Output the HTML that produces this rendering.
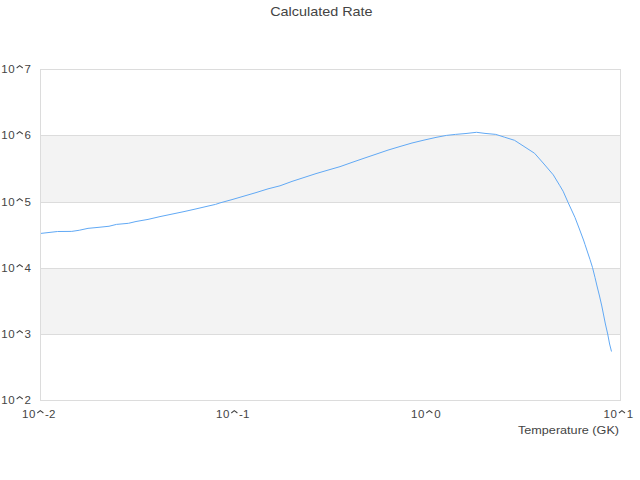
<!DOCTYPE html>
<html><head><meta charset="utf-8"><style>
html,body{margin:0;padding:0;background:#fff;width:640px;height:480px;overflow:hidden}
svg{display:block}
text{font-family:"Liberation Sans",sans-serif;fill:#444}
</style></head><body>
<svg width="640" height="480" viewBox="0 0 640 480">
<rect x="0" y="0" width="640" height="480" fill="#fff"/>
<rect x="41" y="136" width="579" height="66" fill="#f3f3f3"/>
<rect x="41" y="269" width="579" height="65" fill="#f3f3f3"/>
<g fill="#dcdcdc">
<rect x="40" y="69" width="581" height="1"/>
<rect x="40" y="135" width="581" height="1"/>
<rect x="40" y="202" width="581" height="1"/>
<rect x="40" y="268" width="581" height="1"/>
<rect x="40" y="334" width="581" height="1"/>
<rect x="40" y="400" width="581" height="1"/>
<rect x="40" y="69" width="1" height="332"/>
<rect x="620" y="69" width="1" height="332"/>
</g>
<clipPath id="c"><rect x="41" y="60" width="579" height="340"/></clipPath>
<path clip-path="url(#c)" d="M40.00,233.50 L57.50,231.50 L71.75,231.40 L79.25,230.25 L88.00,228.35 L98.00,227.40 L109.00,226.25 L116.50,224.40 L128.50,223.30 L136.00,221.50 L148.00,219.40 L160.00,216.60 L172.00,214.10 L184.00,211.60 L196.00,208.90 L208.00,206.10 L215.50,204.40 L220.00,202.90 L232.00,199.60 L244.00,196.10 L256.00,192.60 L268.00,188.85 L280.00,185.80 L292.00,181.40 L304.00,177.50 L316.00,173.60 L328.00,170.10 L340.00,166.65 L352.00,162.40 L364.00,158.25 L376.00,154.20 L388.00,150.10 L400.00,146.50 L412.00,143.00 L424.00,140.10 L436.00,137.40 L446.50,135.40 L455.50,134.40 L466.00,133.50 L476.50,132.30 L485.00,133.40 L495.75,134.40 L504.75,137.25 L514.50,140.30 L534.60,153.30 L544.00,164.00 L553.30,174.90 L559.60,185.30 L563.10,191.20 L568.10,202.50 L575.00,217.50 L579.40,229.00 L583.50,240.00 L585.00,244.50 L590.00,259.50 L592.50,267.50 L595.00,277.50 L597.00,286.00 L599.50,296.00 L601.80,306.00 L603.80,316.00 L605.40,324.00 L607.70,334.00 L609.60,344.00 L611.50,351.50" fill="none" stroke="#61a9f5" stroke-width="1" stroke-linejoin="bevel"/>
<text x="321.4" y="16" font-size="13.5" text-anchor="middle" textLength="102.5" lengthAdjust="spacingAndGlyphs">Calculated Rate</text>
<g font-size="11.5">
<text x="1.29" y="73">1</text>
<text x="8.35" y="73">0</text>
<path d="M16.66,68.00 L19.66,65.70 L22.75,68.00" fill="none" stroke="#444" stroke-width="1.05"/>
<text x="24.54" y="73">7</text>
<text x="1.29" y="139">1</text>
<text x="8.35" y="139">0</text>
<path d="M16.66,134.00 L19.66,131.70 L22.75,134.00" fill="none" stroke="#444" stroke-width="1.05"/>
<text x="24.56" y="139">6</text>
<text x="1.29" y="206">1</text>
<text x="8.35" y="206">0</text>
<path d="M16.66,201.00 L19.66,198.70 L22.75,201.00" fill="none" stroke="#444" stroke-width="1.05"/>
<text x="24.52" y="206">5</text>
<text x="1.29" y="272">1</text>
<text x="8.35" y="272">0</text>
<path d="M16.66,267.00 L19.66,264.70 L22.75,267.00" fill="none" stroke="#444" stroke-width="1.05"/>
<text x="24.56" y="272">4</text>
<text x="1.29" y="338">1</text>
<text x="8.35" y="338">0</text>
<path d="M16.66,333.00 L19.66,330.70 L22.75,333.00" fill="none" stroke="#444" stroke-width="1.05"/>
<text x="24.58" y="338">3</text>
<text x="1.29" y="404">1</text>
<text x="8.35" y="404">0</text>
<path d="M16.66,399.00 L19.66,396.70 L22.75,399.00" fill="none" stroke="#444" stroke-width="1.05"/>
<text x="24.42" y="404">2</text>
<text x="21.94" y="418">1</text>
<text x="29.00" y="418">0</text>
<path d="M37.31,413.00 L40.31,410.70 L43.40,413.00" fill="none" stroke="#444" stroke-width="1.05"/>
<text x="44.98" y="418">-</text>
<text x="49.04" y="418">2</text>
<text x="215.94" y="418">1</text>
<text x="223.00" y="418">0</text>
<path d="M231.31,413.00 L234.31,410.70 L237.40,413.00" fill="none" stroke="#444" stroke-width="1.05"/>
<text x="238.98" y="418">-</text>
<text x="243.12" y="418">1</text>
<text x="410.94" y="418">1</text>
<text x="418.00" y="418">0</text>
<path d="M426.31,413.00 L429.31,410.70 L432.40,413.00" fill="none" stroke="#444" stroke-width="1.05"/>
<text x="434.21" y="418">0</text>
<text x="603.54" y="418">1</text>
<text x="610.60" y="418">0</text>
<path d="M618.91,413.00 L621.91,410.70 L625.00,413.00" fill="none" stroke="#444" stroke-width="1.05"/>
<text x="626.75" y="418">1</text>
<text x="619" y="434" font-size="11.5" text-anchor="end" textLength="101" lengthAdjust="spacingAndGlyphs">Temperature (GK)</text>
</g>
</svg>
</body></html>
